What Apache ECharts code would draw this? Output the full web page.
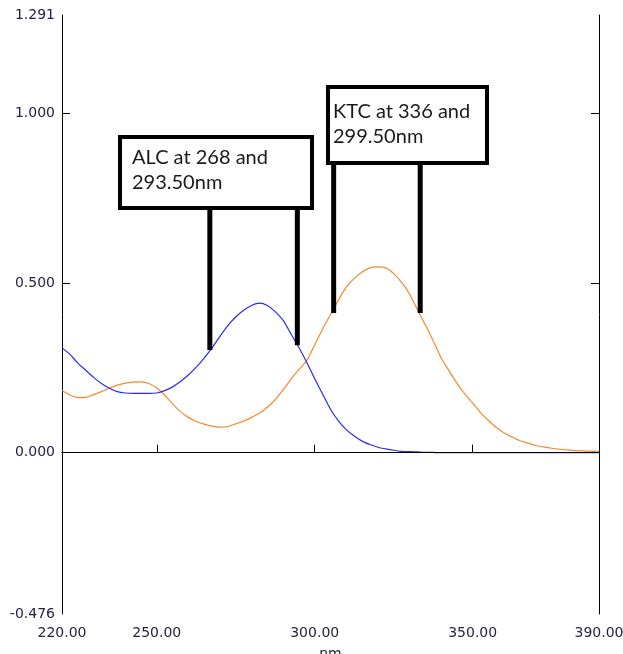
<!DOCTYPE html>
<html lang="en">
<head>
  <meta charset="UTF-8">
  <title>ALC / KTC spectra</title>
  <script src="https://cdn.jsdelivr.net/npm/echarts@6/dist/echarts.min.js"></script>
  <style>
    html, body { margin: 0; padding: 0; background: #fff; }
    #chart { width: 623px; height: 654px; }
  </style>
</head>
<body>
  <div id="chart"></div>
  <script>
    // wavelength (nm)
    var wavelengths = [220, 222.5, 225, 227.5, 230, 232.5, 235, 237.5, 240, 242.5,
                       245, 247.5, 250, 252.5, 255, 257.5, 260, 262.5, 265, 267.5,
                       270, 272.5, 275, 277.5, 280, 282.5, 285, 287.5, 290, 292.5,
                       295, 297.5, 300, 302.5, 305, 307.5, 310, 312.5, 315, 317.5,
                       320, 322.5, 325, 327.5, 330, 332.5, 335, 337.5, 340, 342.5,
                       345, 347.5, 350, 352.5, 355, 357.5, 360, 362.5, 365, 367.5,
                       370, 372.5, 375, 377.5, 380, 382.5, 385, 387.5, 390];
    // ALC absorbance (blue)
    var alcValues = [0.309, 0.290, 0.264, 0.243, 0.222, 0.204, 0.190, 0.180, 0.176, 0.175,
                     0.175, 0.175, 0.176, 0.183, 0.194, 0.210, 0.229, 0.252, 0.279, 0.309,
                     0.343, 0.375, 0.400, 0.420, 0.434, 0.441, 0.434, 0.416, 0.390, 0.350,
                     0.310, 0.266, 0.218, 0.173, 0.128, 0.094, 0.068, 0.049, 0.034, 0.024,
                     0.016, 0.011, 0.007, 0.004, 0.003, 0.002, 0.001, 0.0005, 0, 0,
                     0, 0, 0, 0, 0, 0, 0, 0, 0, 0,
                     0, 0, 0, 0, 0, 0, 0, 0, 0];
    // KTC absorbance (orange)
    var ktcValues = [0.184, 0.170, 0.162, 0.163, 0.171, 0.180, 0.190, 0.199, 0.205, 0.208,
                     0.209, 0.204, 0.191, 0.170, 0.144, 0.121, 0.104, 0.092, 0.084, 0.078,
                     0.075, 0.077, 0.085, 0.093, 0.104, 0.116, 0.134, 0.156, 0.185, 0.217,
                     0.245, 0.272, 0.318, 0.365, 0.407, 0.450, 0.488, 0.514, 0.533, 0.545,
                     0.548, 0.545, 0.528, 0.502, 0.468, 0.422, 0.377, 0.330, 0.280, 0.242,
                     0.205, 0.173, 0.146, 0.118, 0.095, 0.074, 0.058, 0.046, 0.035, 0.028,
                     0.021, 0.017, 0.013, 0.010, 0.008, 0.006, 0.005, 0.004, 0.003];

    var xTicks = [220, 250, 300, 350, 390];
    var yLabels = [-0.476, 0, 0.5, 1.0, 1.291];
    var yTicks = [0.5, 1.0];

    // callouts: text + the two points each leader line points to
    var callouts = [
      { text: 'ALC at 268 and\n293.50nm', box: [120, 137, 192, 71], textAt: [12, 8], points: [[266.8, 0.303], [294.5, 0.317]] },
      { text: 'KTC at 336 and\n299.50nm', box: [328, 87, 159, 76], textAt: [5, 12], points: [[306, 0.412], [333.4, 0.412]] }
    ];

    var chart = echarts.init(document.getElementById('chart'));

    function pairs(ys) {
      return wavelengths.map(function (x, i) { return [x, ys[i]]; });
    }

    var labelStyle = { color: '#23234a', fontFamily: 'DejaVu Sans', fontSize: 14 };

    var option = {
      animation: false,
      grid: { left: 62, right: 24, top: 15, bottom: 40, outerBoundsMode: 'none' },
      xAxis: [{
        type: 'value', min: 220, max: 390,
        name: 'nm', nameLocation: 'middle', nameGap: 33,
        nameTextStyle: labelStyle,
        axisLine: { lineStyle: { color: '#000', width: 1 } },
        axisTick: { inside: true, length: 8, lineStyle: { color: '#000' }, customValues: [250, 300, 350] },
        axisLabel: Object.assign({ margin: 12, customValues: xTicks, formatter: function (v) { return v.toFixed(2); } }, labelStyle),
        splitLine: { show: false }
      }, {
        type: 'value', min: 220, max: 390, position: 'top',
        axisLine: { lineStyle: { color: '#000', width: 1 } },
        axisTick: { show: false }, axisLabel: { show: false }, splitLine: { show: false }
      }],
      yAxis: [{
        type: 'value', min: -0.476, max: 1.291,
        axisLine: { show: true, lineStyle: { color: '#000', width: 1 } },
        axisTick: { show: true, inside: true, length: 8, lineStyle: { color: '#000' }, customValues: yTicks },
        axisLabel: Object.assign({ margin: 7, customValues: yLabels, formatter: function (v) { return v.toFixed(3); } }, labelStyle),
        splitLine: { show: false }
      }, {
        type: 'value', min: -0.476, max: 1.291, position: 'right',
        axisLine: { show: true, lineStyle: { color: '#000', width: 1 } },
        axisTick: { show: true, inside: true, length: 8, lineStyle: { color: '#000' }, customValues: yTicks },
        axisLabel: { show: false }, splitLine: { show: false }
      }],
      series: [{
        type: 'line', data: [], z: 1,
        markLine: {
          silent: true, symbol: 'none', label: { show: false },
          lineStyle: { color: '#000', width: 1, type: 'solid' },
          data: [{ yAxis: 0 }]
        }
      }, {
        name: 'KTC', type: 'line', data: pairs(ktcValues), smooth: 0.3, showSymbol: false, z: 2,
        lineStyle: { color: '#f7882f', width: 1.2 }
      }, {
        name: 'ALC', type: 'line', data: pairs(alcValues), smooth: 0.3, showSymbol: false, z: 3,
        lineStyle: { color: '#2b2bf2', width: 1.2 }
      }]
    };

    chart.setOption(option);

    // callout boxes and leader lines on top
    var elements = [];
    callouts.forEach(function (c) {
      var b = c.box;
      c.points.forEach(function (p) {
        var px = chart.convertToPixel({ gridIndex: 0 }, p);
        elements.push({
          type: 'line', z: 10,
          shape: { x1: px[0], y1: b[1] + b[3], x2: px[0], y2: px[1] },
          style: { stroke: '#000', lineWidth: 5 }
        });
      });
      elements.push({
        type: 'rect', z: 11,
        shape: { x: b[0], y: b[1], width: b[2], height: b[3] },
        style: { fill: '#fff', stroke: '#000', lineWidth: 4 }
      });
      elements.push({
        type: 'text', z: 12, x: b[0] + c.textAt[0], y: b[1] + c.textAt[1],
        style: { text: c.text, fill: '#1a1a1a', font: '20px Lato', lineHeight: 25 }
      });
    });
    chart.setOption({ graphic: elements });
  </script>
</body>
</html>
